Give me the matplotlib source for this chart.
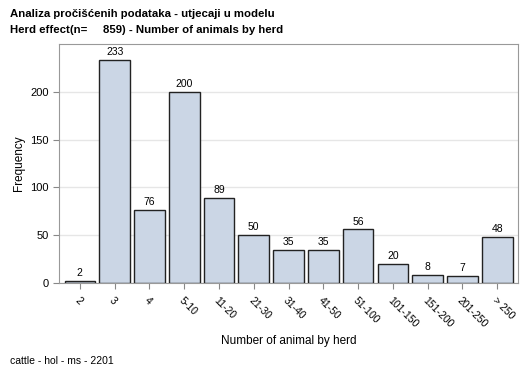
import numpy as np
import matplotlib.pyplot as plt

plt.rcParams['font.family'] = ['Liberation Sans', 'DejaVu Sans']

# podaci
kategorije = ['2', '3', '4', '5-10', '11-20', '21-30', '31-40', '41-50',
              '51-100', '101-150', '151-200', '201-250', '> 250']
frekvencije = [2, 233, 76, 200, 89, 50, 35, 35, 56, 20, 8, 7, 48]
y_ticks = [0, 50, 100, 150, 200]

fig = plt.figure(figsize=(5.29, 3.78), dpi=100)
ax = fig.add_axes([0.1115, 0.2513, 0.868, 0.6323])

x = np.arange(len(kategorije))
ax.bar(x, frekvencije, width=0.88, color='#cbd6e5', edgecolor='#222222',
       linewidth=1.0, zorder=3)
for xi, v in zip(x, frekvencije):
    ax.text(xi, v + 3, str(v), ha='center', va='bottom', fontsize=7.5)

ax.set_xlim(-0.6, len(kategorije) - 0.4)
ax.set_ylim(0, 250)
ax.set_yticks(y_ticks)
ax.set_xticks(x)
ax.set_xticklabels(kategorije, rotation=-45, ha='left', rotation_mode='anchor',
                   fontsize=7.5)
ax.tick_params(axis='y', labelsize=8, color='#888888', length=4)
ax.tick_params(axis='x', color='#888888', length=4, pad=5)
ax.grid(axis='y', color='#e6e6e6', linewidth=1, zorder=0)
for s in ax.spines.values():
    s.set_color('#999999')

ax.set_ylabel('Frequency', fontsize=8.5)
ax.set_xlabel('Number of animal by herd', fontsize=8.5, labelpad=4)

fig.text(0.019, 0.963, 'Analiza pročišćenih podataka - utjecaji u modelu',
         fontsize=8.2, fontweight='bold', va='center')
fig.text(0.019, 0.921, 'Herd effect(n=     859) - Number of animals by herd',
         fontsize=8.2, fontweight='bold', va='center')
fig.text(0.019, 0.045, 'cattle - hol - ms - 2201', fontsize=7.5, va='center')

fig.savefig('out.png', dpi=100)
